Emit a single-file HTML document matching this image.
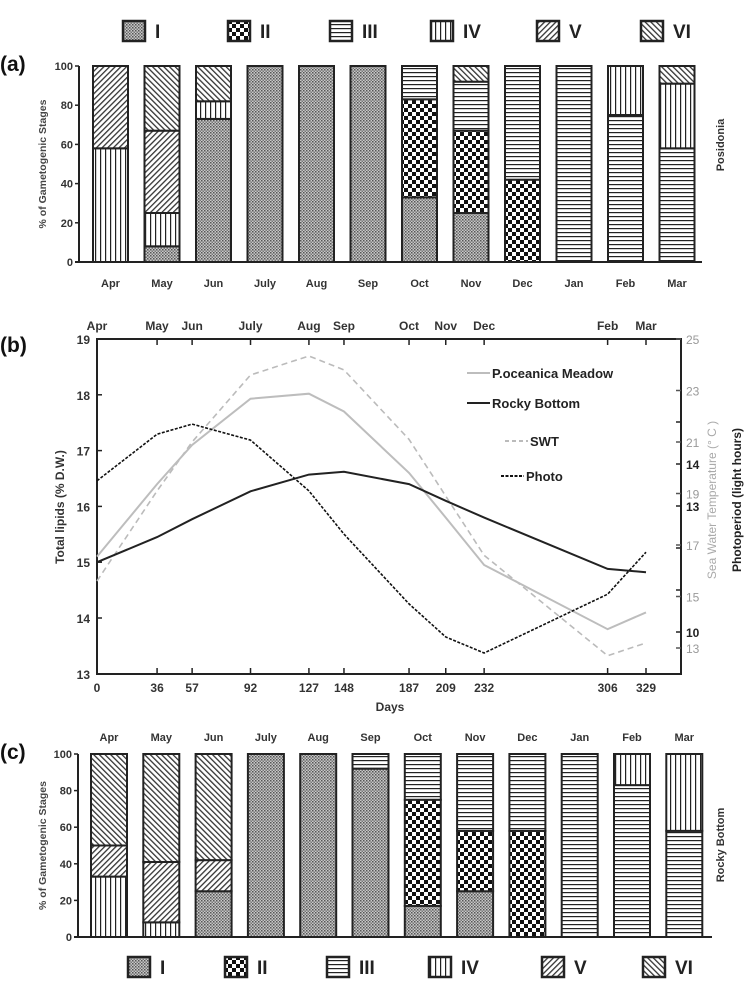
<!DOCTYPE html>
<html><head><meta charset="utf-8">
<style>
html,body{margin:0;padding:0;background:#fff;}
svg{display:block;font-family:"Liberation Sans",sans-serif;}
</style></head>
<body>
<svg id="fig" width="749" height="995" viewBox="0 0 749 995" xmlns="http://www.w3.org/2000/svg">
<defs>
  <pattern id="pI" width="3" height="3" patternUnits="userSpaceOnUse"><rect width="3" height="3" fill="#c8c8c8"/><rect width="1.5" height="1.5" fill="#555"/><rect x="1.5" y="1.5" width="1.5" height="1.5" fill="#777"/></pattern>
  <pattern id="pII" width="8" height="8" patternUnits="userSpaceOnUse"><rect width="8" height="8" fill="#fff"/><rect width="4" height="4" fill="#111"/><rect x="4" y="4" width="4" height="4" fill="#111"/></pattern>
  <pattern id="pIII" width="4" height="4" patternUnits="userSpaceOnUse"><rect width="4" height="4" fill="#fff"/><rect width="4" height="1.2" fill="#222"/></pattern>
  <pattern id="pIV" width="5" height="5" patternUnits="userSpaceOnUse"><rect width="5" height="5" fill="#fff"/><rect width="1.2" height="5" fill="#222"/></pattern>
  <pattern id="pV" width="4" height="4" patternUnits="userSpaceOnUse" patternTransform="rotate(45)"><rect width="4" height="4" fill="#fff"/><rect width="1.3" height="4" fill="#333"/></pattern>
  <pattern id="pVI" width="4" height="4" patternUnits="userSpaceOnUse" patternTransform="rotate(-45)"><rect width="4" height="4" fill="#fff"/><rect width="1.3" height="4" fill="#333"/></pattern>
</defs>
<g id="panelA"></g>
<g id="panelB"></g>
<g id="panelC"></g>
</svg>
<script>
const stages = ['I','II','III','IV','V','VI'];
const months = ['Apr','May','Jun','July','Aug','Sep','Oct','Nov','Dec','Jan','Feb','Mar'];
// Panel (a) Posidonia: per month, values for stages I..VI (%)
const posI   = [0, 8, 73,100,100,100,33,25, 0,  0, 0, 0];
const posII  = [0, 0,  0,  0,  0,  0,50,42,42,  0, 0, 0];
const posIII = [0, 0,  0,  0,  0,  0,17,25,58,100,75,58];
const posIV  = [58,17, 9,  0,  0,  0, 0, 0, 0,  0,25,33];
const posV   = [42,42, 0,  0,  0,  0, 0, 0, 0,  0, 0, 0];
const posVI  = [0, 33, 18, 0,  0,  0, 0, 8, 0,  0, 0, 9];
// Panel (c) Rocky bottom
const rocI   = [0, 0, 25,100,100,92,17,25, 0,  0, 0, 0];
const rocII  = [0, 0,  0,  0,  0, 0,58,33,58,  0, 0, 0];
const rocIII = [0, 0,  0,  0,  0, 8,25,42,42,100,83,58];
const rocIV  = [33,8,  0,  0,  0, 0, 0, 0, 0,  0,17,42];
const rocV   = [17,33,17,  0,  0, 0, 0, 0, 0,  0, 0, 0];
const rocVI  = [50,59,58,  0,  0, 0, 0, 0, 0,  0, 0, 0];
const pctTicks = [0,20,40,60,80,100];
// Panel (b)
const days = [0,36,57,92,127,148,187,209,232,306,329];
const dayMonths = ['Apr','May','Jun','July','Aug','Sep','Oct','Nov','Dec','Feb','Mar'];
const meadow = [15.1,16.4,17.1,17.93,18.02,17.7,16.6,15.8,14.95,13.8,14.1];
const rocky  = [15.0,15.45,15.77,16.27,16.57,16.62,16.4,16.1,15.8,14.88,14.82];
const swt    = [15.6,19.1,21.0,23.6,24.34,23.8,21.1,18.9,16.6,12.7,13.2];
const photo  = [13.6,14.71,14.95,14.57,13.36,12.33,10.67,9.88,9.5,10.9,11.9];
const lipidTicks = [13,14,15,16,17,18,19];
const swtTicks = [25,23,21,19,17,15,13];
const photoTicks = [15,14,13,12,11,10];
const photoLabels = [14,13,10];

const NS='http://www.w3.org/2000/svg';
function mk(parent,tag,attrs,text){const e=document.createElementNS(NS,tag);for(const k in attrs)e.setAttribute(k,attrs[k]);if(text!==undefined)e.textContent=text;parent.appendChild(e);return e;}

function barPanel(g, series, o){
  const y=v=>o.y0-(v/100)*(o.y0-o.y100);
  const x=i=>o.x0+i*o.step;
  // y axis
  const ax=mk(g,'line',{x1:o.axX,y1:o.y100,x2:o.axX,y2:o.y0,stroke:'#222','stroke-width':2});
  
  
  const bx=mk(g,'line',{x1:o.axX-4,y1:o.y0,x2:o.axEnd,y2:o.y0,stroke:'#222','stroke-width':2});
  
  
  pctTicks.forEach(t=>{
    mk(g,'line',{x1:o.axX-4,y1:y(t),x2:o.axX,y2:y(t),stroke:'#222','stroke-width':1.5});
    const tl=mk(g,'text',{x:o.axX-6,y:y(t)+4,'text-anchor':'end','font-size':11,'font-weight':'bold',fill:'#333'},t);
    
    
  });
  months.forEach((m,i)=>{
    const ml=mk(g,'text',{x:x(i)+o.w/2,y:o.monthY,'text-anchor':'middle','font-size':11,'font-weight':'bold',fill:'#333'},m);
    
    
    let acc=0;
    series.forEach((s,k)=>{
      const v=s[i]; if(!v) return;
      const r=mk(g,'rect',{x:x(i),y:y(acc+v),width:o.w,height:y(acc)-y(acc+v),fill:'url(#p'+stages[k]+')',stroke:'#222','stroke-width':2});
      
      
      acc+=v;
    });
  });
  const yt=mk(g,'text',{transform:`translate(${o.titleX},${(o.y0+o.y100)/2}) rotate(-90)`,'text-anchor':'middle','font-size':10.5,'font-weight':'bold',fill:'#444'},'% of Gametogenic Stages');
  
  
  const st=mk(g,'text',{transform:`translate(${o.sideX},${o.sideY}) rotate(-90)`,'text-anchor':'middle','font-size':11,'font-weight':'bold',fill:'#333'},o.side);
  
  
  const pl=mk(g,'text',{x:0,y:o.labelY,'font-size':21,'font-weight':'bold',fill:'#111'},o.label);
  
  
  // legend
  o.legX.forEach((lx,k)=>{
    const lg=mk(g,'g',{});
    
    
    mk(lg,'rect',{x:lx,y:o.legY-10,width:22,height:20,fill:'url(#p'+stages[k]+')',stroke:'#222','stroke-width':2.5});
    mk(lg,'text',{x:lx+32,y:o.legY+7,'font-size':19,'font-weight':'bold',fill:'#222'},stages[k]);
  });
}

barPanel(document.getElementById('panelA'),[posI,posII,posIII,posIV,posV,posVI],
 {x0:93,step:51.5,w:35,y0:262,y100:66,axX:79,axEnd:702,monthY:287,titleX:46,side:'Posidonia',sideX:724,sideY:145,label:'(a)',labelY:71,
  legX:[123,228,330,431,537,641],legY:31});
barPanel(document.getElementById('panelC'),[rocI,rocII,rocIII,rocIV,rocV,rocVI],
 {x0:91,step:52.3,w:36,y0:937,y100:754,axX:78,axEnd:712,monthY:741,titleX:46,side:'Rocky Bottom',sideX:724,sideY:845,label:'(c)',labelY:759,
  legX:[128,225,327,429,542,643],legY:967});

// Panel (b)
(function(){
  const g=document.getElementById('panelB');
  const X0=97,X1=681,DX=(646-97)/329;
  const x=d=>X0+d*DX;
  const yL=v=>339+(19-v)*55.8;
  const yS=v=>339+(25-v)*25.75;
  const yP=v=>464+(14-v)*42;
  const fr=mk(g,'path',{d:`M${X0},339 H${X1} V674 H${X0} Z`,fill:'none',stroke:'#222','stroke-width':2});
  
  
  days.forEach((d,i)=>{
    mk(g,'line',{x1:x(d),y1:339,x2:x(d),y2:345,stroke:'#222','stroke-width':1.5});
    mk(g,'line',{x1:x(d),y1:674,x2:x(d),y2:668,stroke:'#222','stroke-width':1.5});
    const t=mk(g,'text',{x:x(d),y:692,'text-anchor':'middle','font-size':12,'font-weight':'bold',fill:'#333'},d);
    
    
    const m=mk(g,'text',{x:x(d),y:330,'text-anchor':'middle','font-size':12,'font-weight':'bold',fill:'#333'},dayMonths[i]);
    
    
  });
  lipidTicks.forEach(t=>{
    mk(g,'line',{x1:X0,y1:yL(t),x2:X0+5,y2:yL(t),stroke:'#222','stroke-width':1.5});
    const l=mk(g,'text',{x:90,y:yL(t)+5,'text-anchor':'end','font-size':12,'font-weight':'bold',fill:'#333'},t);
    
    
  });
  swtTicks.forEach(t=>{
    mk(g,'line',{x1:X1-5,y1:yS(t),x2:X1,y2:yS(t),stroke:'#555','stroke-width':1.5});
    const l=mk(g,'text',{x:686,y:yS(t)+5,'font-size':12,fill:'#999'},t);
    
    
  });
  photoTicks.forEach(t=>{
    mk(g,'line',{x1:X1-5,y1:yP(t),x2:X1,y2:yP(t),stroke:'#222','stroke-width':1.5});
  });
  photoLabels.forEach(t=>{
    const l=mk(g,'text',{x:686,y:yP(t)+5,'font-size':12,'font-weight':'bold',fill:'#222'},t);
    
    
  });
  function line(vals,yf,attrs,name){
    const p=mk(g,'polyline',Object.assign({points:days.map((d,i)=>x(d)+','+yf(vals[i]).toFixed(1)).join(' '),fill:'none'},attrs));
    
    
  }
  line(swt,yS,{stroke:'#bbb','stroke-width':1.6,'stroke-dasharray':'6,4'},'swt-line');
  line(meadow,yL,{stroke:'#bdbdbd','stroke-width':2},'meadow-line');
  line(rocky,yL,{stroke:'#222','stroke-width':2},'rocky-line');
  line(photo,yP,{stroke:'#111','stroke-width':1.6,'stroke-dasharray':'3,1.5'},'photo-line');
  const legs=[[467,373,'#bdbdbd','','P.oceanica Meadow'],[467,403,'#222','','Rocky Bottom'],[505,441,'#bbb','4,3','SWT'],[501,476,'#111','3,1.5','Photo']];
  legs.forEach(l=>{
    const lg=mk(g,'g',{});
    
    
    const a={x1:l[0],y1:l[1],x2:l[0]+23,y2:l[1],stroke:l[2],'stroke-width':2};
    if(l[3])a['stroke-dasharray']=l[3];
    mk(lg,'line',a);
    mk(lg,'text',{x:l[0]+25,y:l[1]+5,'font-size':13,'font-weight':'bold',fill:'#222'},l[4]);
  });
  const dt=mk(g,'text',{x:(X0+X1)/2+1,y:711,'text-anchor':'middle','font-size':12,'font-weight':'bold',fill:'#333'},'Days');
  
  
  const lt=mk(g,'text',{transform:'translate(64,507) rotate(-90)','text-anchor':'middle','font-size':12,'font-weight':'bold',fill:'#333'},'Total lipids (% D.W.)');
  
  
  const sw=mk(g,'text',{transform:'translate(716,500) rotate(-90)','text-anchor':'middle','font-size':12,fill:'#aaa'},'Sea Water Temperature (° C )');
  
  
  const ph=mk(g,'text',{transform:'translate(741,500) rotate(-90)','text-anchor':'middle','font-size':12,'font-weight':'bold',fill:'#222'},'Photoperiod (light hours)');
  
  
  const pl=mk(g,'text',{x:0,y:352,'font-size':21,'font-weight':'bold',fill:'#111'},'(b)');
  
  
})();
</script>
</body></html>
